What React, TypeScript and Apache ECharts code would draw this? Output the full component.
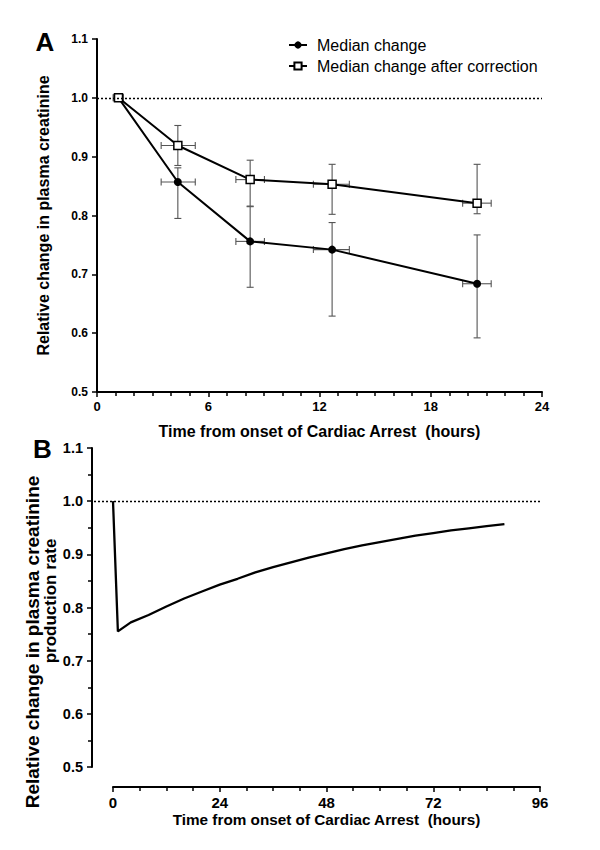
import React, { useEffect, useRef } from "react";
import * as echarts from "echarts";

// Panel A: relative change in plasma creatinine
const timesA = [1.16, 4.36, 8.26, 12.68, 20.5];
const timeLow = [0.88, 3.46, 7.49, 11.67, 19.72];
const timeHigh = [1.42, 5.3, 9.03, 13.61, 21.26];
const medianChange = [1.0, 0.857, 0.756, 0.742, 0.684];
const medianLow = [1.0, 0.795, 0.678, 0.629, 0.592];
const medianHigh = [1.0, 0.881, 0.815, 0.788, 0.767];
const corrected = [1.0, 0.919, 0.861, 0.853, 0.821];
const correctedLow = [1.0, 0.885, 0.816, 0.802, 0.803];
const correctedHigh = [1.0, 0.953, 0.894, 0.887, 0.887];

// Panel B: relative change in plasma creatinine production rate
const timesB = [0, 1.1, 4, 8, 12, 16, 20, 24, 28, 32, 36, 40, 44, 48, 52, 56, 60, 64, 68, 72, 76, 80, 84, 88];
const productionRate = [1.0, 0.755, 0.772, 0.786, 0.802, 0.817, 0.83, 0.843, 0.854, 0.866, 0.876, 0.885, 0.894, 0.902, 0.91, 0.917, 0.923, 0.929, 0.935, 0.94, 0.945, 0.949, 0.953, 0.957];

const FONT = "'Liberation Sans', Arial, sans-serif";

function errorRows(vals: number[], lo: number[], hi: number[]) {
  return timesA.map((t, i) => [t, vals[i], lo[i], hi[i], timeLow[i], timeHigh[i]]);
}

function renderErrorBar(params: any, api: any) {
  const x = api.value(0);
  const y = api.value(1);
  const yl = api.value(2);
  const yh = api.value(3);
  const xl = api.value(4);
  const xh = api.value(5);
  const style = { stroke: "#555", lineWidth: 1.1, fill: null };
  const cap = 3.5;
  const children: any[] = [];
  if (yh > yl) {
    const pl = api.coord([x, yl]);
    const ph = api.coord([x, yh]);
    children.push({ type: "line", shape: { x1: pl[0], y1: pl[1], x2: ph[0], y2: ph[1] }, style });
    children.push({ type: "line", shape: { x1: pl[0] - cap, y1: pl[1], x2: pl[0] + cap, y2: pl[1] }, style });
    children.push({ type: "line", shape: { x1: ph[0] - cap, y1: ph[1], x2: ph[0] + cap, y2: ph[1] }, style });
  }
  const a = api.coord([xl, y]);
  const b = api.coord([xh, y]);
  children.push({ type: "line", shape: { x1: a[0], y1: a[1], x2: b[0], y2: b[1] }, style });
  children.push({ type: "line", shape: { x1: a[0], y1: a[1] - cap, x2: a[0], y2: a[1] + cap }, style });
  children.push({ type: "line", shape: { x1: b[0], y1: b[1] - cap, x2: b[0], y2: b[1] + cap }, style });
  return { type: "group", children };
}

export default function App() {
  const ref = useRef<HTMLDivElement>(null);
  useEffect(() => {
    document.body.style.margin = "0";
    const chart = echarts.init(ref.current!, null, { renderer: "svg" });
    const axisLine = { show: true, onZero: false, lineStyle: { color: "#000", width: 2 } };
    const option: any = {
      animation: false,
      backgroundColor: "#fff",
      textStyle: { fontFamily: FONT },
      grid: [
        { left: 97, top: 39, width: 445, height: 353 },
        { left: 113, top: 448, width: 427, height: 319 },
      ],
      legend: {
        orient: "vertical",
        left: 288,
        top: 37,
        padding: 0,
        itemWidth: 18,
        itemHeight: 9,
        itemGap: 5,
        data: ["Median change", "Median change after correction"],
        textStyle: { fontSize: 16, color: "#000", fontFamily: FONT, padding: [0, 0, 0, 5] },
      },
      xAxis: [
        {
          gridIndex: 0,
          type: "value",
          min: 0,
          max: 24,
          interval: 6,
          axisLine,
          axisTick: { show: true, length: 5, lineStyle: { color: "#000", width: 1.5 } },
          minorTick: { show: true, splitNumber: 6, length: 4, lineStyle: { color: "#000", width: 1.5 } },
          splitLine: { show: false },
          axisLabel: { fontSize: 13, fontWeight: "bold", color: "#000", margin: 8, fontFamily: FONT },
          name: "Time from onset of Cardiac Arrest  (hours)",
          nameLocation: "middle",
          nameGap: 31,
          nameTextStyle: { fontSize: 16, fontWeight: "bold", color: "#000", fontFamily: FONT },
        },
        {
          gridIndex: 1,
          type: "value",
          min: 0,
          max: 96,
          interval: 24,
          offset: 20,
          axisLine,
          axisTick: { show: true, length: 5, lineStyle: { color: "#000", width: 1.5 } },
          minorTick: { show: true, splitNumber: 4, length: 4, lineStyle: { color: "#000", width: 1.5 } },
          splitLine: { show: false },
          axisLabel: { fontSize: 15, fontWeight: "bold", color: "#000", margin: 8, fontFamily: FONT },
          name: "Time from onset of Cardiac Arrest  (hours)",
          nameLocation: "middle",
          nameGap: 25,
          nameTextStyle: { fontSize: 15.3, fontWeight: "bold", color: "#000", fontFamily: FONT },
        },
      ],
      yAxis: [
        {
          gridIndex: 0,
          type: "value",
          min: 0.5,
          max: 1.1,
          interval: 0.1,
          axisLine,
          axisTick: { show: true, length: 5, lineStyle: { color: "#000", width: 1.5 } },
          splitLine: { show: false },
          axisLabel: {
            fontSize: 12,
            fontWeight: "bold",
            color: "#000",
            margin: 9,
            fontFamily: FONT,
            formatter: (v: number) => v.toFixed(1),
          },
          name: "Relative change in plasma creatinine",
          nameLocation: "middle",
          nameGap: 46,
          nameTextStyle: { fontSize: 16, fontWeight: "bold", color: "#000", fontFamily: FONT },
        },
        {
          gridIndex: 1,
          type: "value",
          min: 0.5,
          max: 1.1,
          interval: 0.1,
          offset: 21,
          axisLine,
          axisTick: { show: true, length: 5, lineStyle: { color: "#000", width: 1.5 } },
          minorTick: { show: true, splitNumber: 2, length: 4, lineStyle: { color: "#000", width: 1.5 } },
          splitLine: { show: false },
          axisLabel: {
            fontSize: 14.5,
            fontWeight: "bold",
            color: "#000",
            margin: 9,
            fontFamily: FONT,
            formatter: (v: number) => v.toFixed(1),
          },
        },
      ],
      graphic: [
        { type: "text", x: 45, y: 42, style: { text: "A", font: `bold 26px ${FONT}`, fill: "#000", align: "center", verticalAlign: "middle" } },
        { type: "text", x: 42.5, y: 449, style: { text: "B", font: `bold 26px ${FONT}`, fill: "#000", align: "center", verticalAlign: "middle" } },
        {
          type: "text",
          x: 32,
          y: 642,
          rotation: Math.PI / 2,
          style: { text: "Relative change in plasma creatinine", font: `bold 19px ${FONT}`, fill: "#000", align: "center", verticalAlign: "middle" },
        },
        {
          type: "text",
          x: 50,
          y: 601,
          rotation: Math.PI / 2,
          style: { text: "production rate", font: `bold 17px ${FONT}`, fill: "#000", align: "center", verticalAlign: "middle" },
        },
      ],
      series: [
        {
          type: "custom",
          name: "err-median",
          xAxisIndex: 0,
          yAxisIndex: 0,
          renderItem: renderErrorBar,
          data: errorRows(medianChange, medianLow, medianHigh),
          encode: { x: [0, 4, 5], y: [1, 2, 3] },
          silent: true,
          z: 1,
        },
        {
          type: "custom",
          name: "err-corrected",
          xAxisIndex: 0,
          yAxisIndex: 0,
          renderItem: renderErrorBar,
          data: errorRows(corrected, correctedLow, correctedHigh),
          encode: { x: [0, 4, 5], y: [1, 2, 3] },
          silent: true,
          z: 1,
        },
        {
          type: "line",
          name: "Median change",
          xAxisIndex: 0,
          yAxisIndex: 0,
          data: timesA.map((t, i) => [t, medianChange[i]]),
          symbol: "circle",
          symbolSize: 8,
          itemStyle: { color: "#000" },
          lineStyle: { color: "#000", width: 2 },
          z: 3,
          markLine: {
            silent: true,
            symbol: "none",
            label: { show: false },
            lineStyle: { color: "#000", type: [2, 2], width: 1.3 },
            data: [{ yAxis: 1.0 }],
          },
        },
        {
          type: "line",
          name: "Median change after correction",
          xAxisIndex: 0,
          yAxisIndex: 0,
          data: timesA.map((t, i) => [t, corrected[i]]),
          symbol: "rect",
          symbolSize: 8,
          itemStyle: { color: "#fff", borderColor: "#000", borderWidth: 1.5 },
          lineStyle: { color: "#000", width: 2 },
          z: 4,
        },
        {
          type: "line",
          name: "Production rate",
          xAxisIndex: 1,
          yAxisIndex: 1,
          data: timesB.map((t, i) => [t, productionRate[i]]),
          showSymbol: false,
          symbol: "none",
          smooth: false,
          lineStyle: { color: "#000", width: 2.3 },
          markLine: {
            silent: true,
            symbol: "none",
            label: { show: false },
            lineStyle: { color: "#000", type: [2, 2], width: 1.3 },
            data: [[{ x: 94, yAxis: 1.0 }, { x: 540, yAxis: 1.0 }]],
          },
        },
      ],
    };
    chart.setOption(option);
    return () => chart.dispose();
  }, []);
  return <div ref={ref} style={{ width: 600, height: 850 }} />;
}
